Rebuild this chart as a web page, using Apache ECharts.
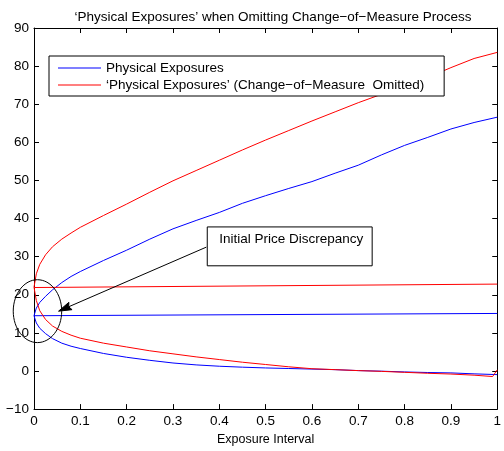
<!DOCTYPE html>
<html>
<head>
<meta charset="utf-8">
<script src="https://cdn.jsdelivr.net/npm/echarts@6/dist/echarts.min.js"></script>
<style>
  html, body { margin: 0; padding: 0; background: #fff; }
  #main { width: 504px; height: 451px; }
</style>
</head>
<body>
<div id="main"></div>
<script>
// values
var tPoints = [0, 0.005, 0.0125, 0.025, 0.04, 0.06, 0.08, 0.1, 0.15, 0.2, 0.25, 0.3, 0.35, 0.4,
  0.45, 0.5, 0.55, 0.6, 0.65, 0.7, 0.75, 0.8, 0.85, 0.9, 0.95, 1];

var blueUpper = [14.5, 16.5, 18.0, 19.6, 21.3, 23.2, 24.8, 26.1, 29.0, 31.7, 34.6, 37.3, 39.5, 41.6,
  44.0, 46.0, 47.9, 49.7, 51.9, 54.0, 56.7, 59.2, 61.3, 63.5, 65.2, 66.6];
var blueLower = [14.5, 12.6, 11.2, 9.8, 8.5, 7.3, 6.5, 5.9, 4.6, 3.6, 2.8, 2.1, 1.6, 1.25,
  1.0, 0.8, 0.65, 0.5, 0.35, 0.1, -0.05, -0.25, -0.4, -0.5, -0.75, -0.95];
var redUpper = [22.0, 25.5, 28.0, 30.5, 32.6, 34.6, 36.2, 37.7, 40.8, 43.8, 46.9, 49.9, 52.6, 55.3,
  58.0, 60.6, 63.1, 65.6, 68.0, 70.4, 72.6, 74.8, 77.0, 79.6, 82.0, 83.6];
var redLower = [22.0, 18.5, 15.8, 13.5, 11.8, 10.4, 9.4, 8.6, 7.3, 6.3, 5.3, 4.5, 3.7, 3.0,
  2.3, 1.7, 1.1, 0.6, 0.35, 0.1, -0.1, -0.35, -0.6, -0.8, -1.1, -1.45];
// red lower path ends with a small jump at the last step
var redLowerEnd = [[0.99, -1.45], [1, 0.3]];

var blueMean = [[0, 14.5], [1, 15.1]];
var redMean = [[0, 21.9], [1, 22.8]];

var nameBlue = 'Physical Exposures';
var nameRed = '\u2018Physical Exposures\u2019 (Change\u2212of\u2212Measure  Omitted)';

function pairs(xs, ys) {
  var out = [];
  for (var i = 0; i < xs.length; i++) out.push([xs[i], ys[i]]);
  return out;
}

var redLowerData = pairs(tPoints.slice(0, tPoints.length - 1), redLower.slice(0, redLower.length - 1)).concat(redLowerEnd);

var dom = document.getElementById('main');
var chart = echarts.init(dom, null, { renderer: 'canvas' });

var fontFam = 'Liberation Sans, Arial, Helvetica, sans-serif';
var fs = 13.5;
function minus(v) { return String(v).replace('-', '\u2212'); }

var axisCommon = {
  axisLine: { onZero: false, lineStyle: { color: '#000', width: 1 } },
  axisTick: { inside: true, length: 5, lineStyle: { color: '#000' } },
  splitLine: { show: false }
};

function lineSeries(name, data, color) {
  return {
    name: name, type: 'line', data: data, symbol: 'none', animation: false,
    lineStyle: { color: color, width: 1 }, itemStyle: { color: color },
    xAxisIndex: 0, yAxisIndex: 0
  };
}

chart.setOption({
  animation: false,
  backgroundColor: '#fff',
  title: {
    text: '\u2018Physical Exposures\u2019 when Omitting Change\u2212of\u2212Measure Process',
    left: 268, top: 5, textAlign: 'center',
    textStyle: { fontFamily: fontFam, fontSize: fs, fontWeight: 'normal', color: '#000' }
  },
  grid: { left: 34, top: 28, width: 468, height: 389 },
  legend: {
    data: [nameBlue, nameRed],
    orient: 'vertical', left: 49, top: 56,
    padding: [5, 20, 4, 9], itemGap: 3, itemWidth: 43, itemHeight: 1,
    icon: 'rect',
    backgroundColor: '#fff', borderColor: '#000', borderWidth: 1,
    textStyle: { fontFamily: fontFam, fontSize: fs, color: '#000' },
    selectedMode: false
  },
  xAxis: [
    Object.assign({}, axisCommon, {
      type: 'value', min: 0, max: 1, interval: 0.1, position: 'bottom',
      name: 'Exposure Interval', nameLocation: 'middle', nameGap: 19,
      nameTextStyle: { fontFamily: fontFam, fontSize: 12.5, color: '#000' },
      axisLabel: { margin: 5, fontFamily: fontFam, fontSize: fs, color: '#000', formatter: minus }
    }),
    Object.assign({}, axisCommon, {
      type: 'value', min: 0, max: 1, interval: 0.1, position: 'top',
      axisLabel: { show: false }
    })
  ],
  yAxis: [
    Object.assign({}, axisCommon, {
      type: 'value', min: -10, max: 90, interval: 10, position: 'left',
      axisLabel: { margin: 5, fontFamily: fontFam, fontSize: fs, color: '#000', formatter: minus }
    }),
    Object.assign({}, axisCommon, {
      type: 'value', min: -10, max: 90, interval: 10, position: 'right',
      axisLabel: { show: false }
    })
  ],
  series: [
    lineSeries(nameBlue, pairs(tPoints, blueUpper), '#0000ff'),
    lineSeries(nameRed, pairs(tPoints, redUpper), '#ff0000'),
    lineSeries(nameBlue, blueMean, '#0000ff'),
    lineSeries(nameRed, redMean, '#ff0000'),
    lineSeries(nameBlue, pairs(tPoints, blueLower), '#0000ff'),
    lineSeries(nameRed, redLowerData, '#ff0000')
  ]
});

// annotation: ellipse, arrow and text box, placed in data coordinates
function px(p) { return chart.convertToPixel({ xAxisIndex: 0, yAxisIndex: 0 }, p); }

var ellC = px([0.0075, 15.7]);
var ellE = px([0.0075 + 0.0523, 15.7 - 8.25]);
var head = px([0.053, 15.7]);
var tail = px([0.372, 32.5]);
var boxA = px([0.374, 37.8]);
var boxB = px([0.73, 27.6]);

var dx = tail[0] - head[0], dy = tail[1] - head[1];
var len = Math.sqrt(dx * dx + dy * dy);
var ux = dx / len, uy = dy / len;
var hl = 11, hw = 4;
var baseX = head[0] + ux * hl, baseY = head[1] + uy * hl;

chart.setOption({
  graphic: [
    {
      type: 'ellipse', silent: true,
      shape: { cx: ellC[0], cy: ellC[1], rx: ellE[0] - ellC[0], ry: ellE[1] - ellC[1] },
      style: { fill: null, stroke: '#000', lineWidth: 1 }, z: 100
    },
    {
      type: 'line', silent: true,
      shape: { x1: tail[0], y1: tail[1], x2: baseX, y2: baseY },
      style: { stroke: '#000', lineWidth: 1 }, z: 100
    },
    {
      type: 'polygon', silent: true,
      shape: { points: [
        [head[0], head[1]],
        [baseX - uy * hw + ux * 2, baseY + ux * hw + uy * 2],
        [baseX, baseY],
        [baseX + uy * hw + ux * 2, baseY - ux * hw + uy * 2]
      ] },
      style: { fill: '#000', stroke: '#000', lineWidth: 1 }, z: 100
    },
    {
      type: 'rect', silent: true,
      shape: { x: boxA[0], y: boxA[1], width: boxB[0] - boxA[0], height: boxB[1] - boxA[1] },
      style: { fill: '#fff', stroke: '#000', lineWidth: 1 }, z: 100
    },
    {
      type: 'text', silent: true, x: boxA[0] + 12, y: boxA[1] + 12,
      style: { text: 'Initial Price Discrepancy', fill: '#000', fontFamily: fontFam, fontSize: fs,
        verticalAlign: 'middle', align: 'left' }, z: 101
    }
  ]
});
</script>
</body>
</html>
